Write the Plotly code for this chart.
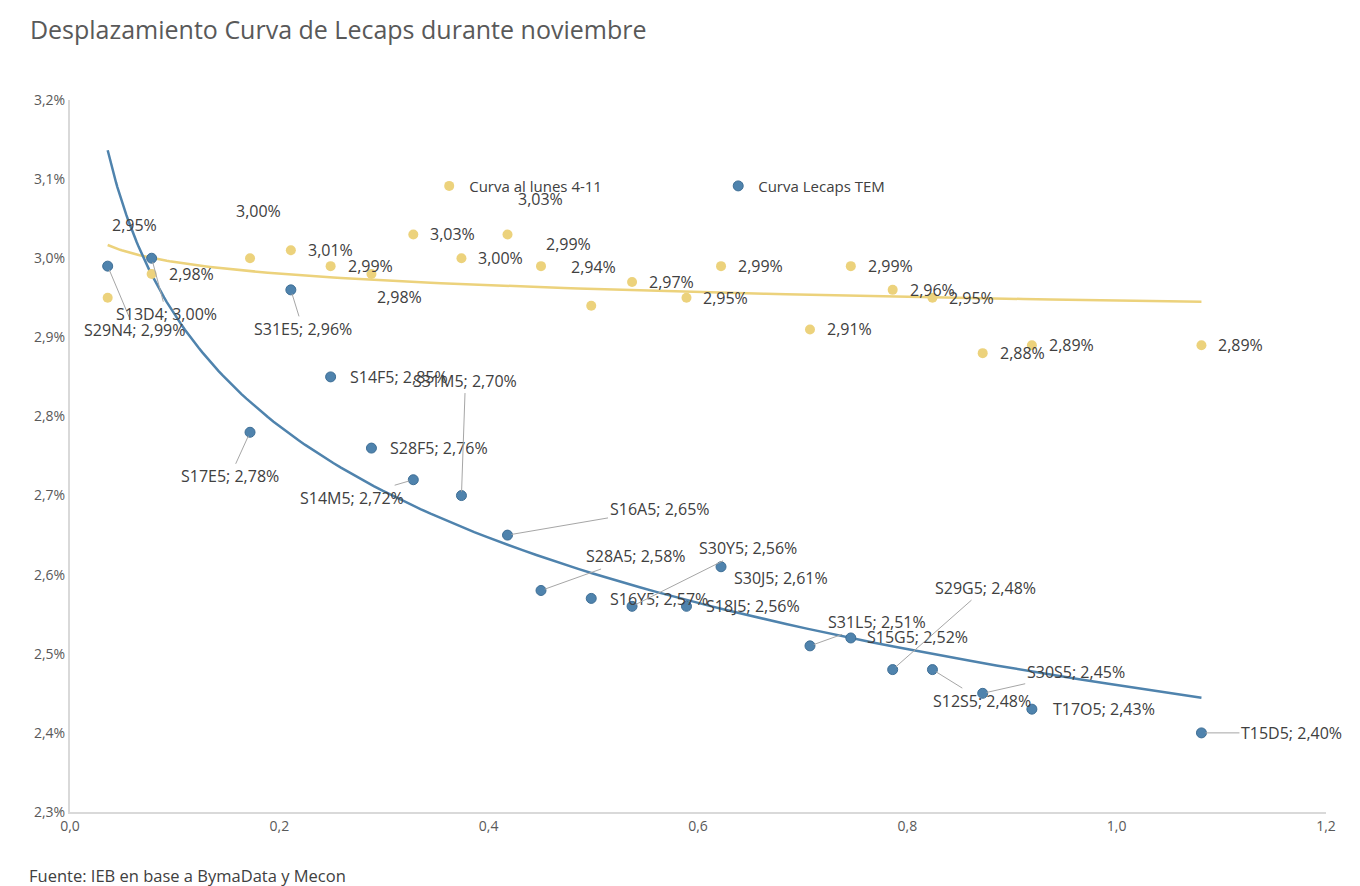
import numpy as np
import plotly.graph_objects as go

# Lecaps: duración (años) y TEM (%)
tickers = ["S29N4", "S13D4", "S17E5", "S31E5", "S14F5", "S28F5", "S14M5", "S31M5",
           "S16A5", "S28A5", "S16Y5", "S30Y5", "S18J5", "S30J5", "S31L5", "S15G5",
           "S29G5", "S12S5", "S30S5", "T17O5", "T15D5"]
duracion = [0.036, 0.078, 0.172, 0.211, 0.249, 0.288, 0.328, 0.374,
            0.418, 0.450, 0.498, 0.537, 0.589, 0.622, 0.707, 0.746,
            0.786, 0.824, 0.872, 0.919, 1.081]
tem_actual = [2.99, 3.00, 2.78, 2.96, 2.85, 2.76, 2.72, 2.70,
              2.65, 2.58, 2.57, 2.56, 2.56, 2.61, 2.51, 2.52,
              2.48, 2.48, 2.45, 2.43, 2.40]
tem_lunes = [2.95, 2.98, 3.00, 3.01, 2.99, 2.98, 3.03, 3.00,
             3.03, 2.99, 2.94, 2.97, 2.95, 2.99, 2.91, 2.99,
             2.96, 2.95, 2.88, 2.89, 2.89]

AZUL = "#4f83ad"
AMARILLO = "#ecd27c"
TEXTO = "#404040"
GRIS = "#a6a6a6"
FUENTE = "Open Sans"

# etiquetas con linea guia: (dx, dy) del centro del texto respecto al punto, en px
guia_azul = {
    "S29N4": (27, 64), "S13D4": (15, 56), "S31E5": (12, 39), "S17E5": (-20, 44),
    "S14M5": (-61, 18), "S31M5": (4, -115), "S16A5": (152, -26), "S28A5": (95, -34),
    "S30Y5": (116, -58), "S31L5": (67, -24), "S29G5": (93, -82), "S12S5": (50, 31),
    "S30S5": (93, -21), "T15D5": (90, 0),
}
# etiquetas a la derecha: (desplazamiento x al borde izq, dy)
derecha_azul = {
    "S14F5": (17, 0), "S28F5": (17, 0), "S16Y5": (17, 1), "S18J5": (18, 0),
    "S30J5": (11, 11), "S15G5": (14, -1), "T17O5": (19, 0),
}
# curva del lunes: etiquetas centradas con desplazamiento propio
centro_amarillo = {
    "S29N4": (27, -73), "S17E5": (8, -47), "S28F5": (28, 23),
    "S16A5": (33, -35), "S28A5": (27, -22), "S16Y5": (2, -39),
}


def pct(v):
    return f"{v:.2f}".replace(".", ",") + "%"


def curva_log(x, y):
    b, a = np.polyfit(np.log(x), y, 1)
    xs = np.geomspace(min(x), max(x), 120)
    return xs, a + b * np.log(xs)


fig = go.Figure()

xs, ys = curva_log(duracion, tem_lunes)
fig.add_trace(go.Scatter(x=xs, y=ys, mode="lines", line=dict(color=AMARILLO, width=2.5),
                         showlegend=False, hoverinfo="skip"))
xs, ys = curva_log(duracion, tem_actual)
fig.add_trace(go.Scatter(x=xs, y=ys, mode="lines", line=dict(color=AZUL, width=2.5),
                         showlegend=False, hoverinfo="skip"))

fig.add_trace(go.Scatter(x=duracion, y=tem_lunes, mode="markers", name="Curva al lunes 4-11",
                         marker=dict(color=AMARILLO, size=10)))
fig.add_trace(go.Scatter(x=duracion, y=tem_actual, mode="markers", name="Curva Lecaps TEM",
                         text=tickers,
                         marker=dict(color=AZUL, size=10, line=dict(color="#3f6f96", width=1))))

annotations = []
fuente_etq = dict(family=FUENTE, size=16, color=TEXTO)

for t, x, y in zip(tickers, duracion, tem_lunes):
    if t in centro_amarillo:
        dx, dy = centro_amarillo[t]
        annotations.append(dict(x=x, y=y, text=pct(y), showarrow=False, xanchor="center",
                                xshift=dx, yshift=-dy, font=fuente_etq))
    else:
        annotations.append(dict(x=x, y=y, text=pct(y), showarrow=False, xanchor="left",
                                xshift=15, font=fuente_etq))

for t, x, y in zip(tickers, duracion, tem_actual):
    texto = f"{t}; {pct(y)}"
    if t in guia_azul:
        dx, dy = guia_azul[t]
        annotations.append(dict(x=x, y=y, text=texto, showarrow=True, arrowhead=0,
                                arrowwidth=1, arrowcolor=GRIS, ax=dx, ay=dy,
                                standoff=4, font=fuente_etq))
    else:
        dx, dy = derecha_azul[t]
        annotations.append(dict(x=x, y=y, text=texto, showarrow=False, xanchor="left",
                                xshift=dx, yshift=-dy, font=fuente_etq))

annotations.append(dict(xref="paper", yref="paper", x=-0.034, y=-0.0885, xanchor="left",
                        yanchor="middle", showarrow=False,
                        text="Fuente: IEB en base a BymaData y Mecon",
                        font=dict(family=FUENTE, size=16.5, color=TEXTO)))

fig.update_layout(
    width=1360,
    height=886,
    title=dict(text="Desplazamiento Curva de Lecaps durante noviembre", x=0.022, xanchor="left",
               y=0.966, yanchor="middle", font=dict(family=FUENTE, size=25, color="#595959")),
    separators=",.",
    paper_bgcolor="white",
    plot_bgcolor="white",
    font=dict(family=FUENTE, color="#595959"),
    margin=dict(t=100, l=70, r=34, b=74),
    xaxis=dict(range=[0, 1.2], dtick=0.2, tickformat=".1f", showgrid=False, zeroline=False,
               showline=True, linecolor="#d9d9d9", linewidth=2, ticks="",
               tickfont=dict(size=14, color="#595959")),
    yaxis=dict(range=[2.3, 3.2], dtick=0.1, tickformat=".1f", ticksuffix="%", showgrid=False,
               zeroline=False, showline=True, linecolor="#d9d9d9", linewidth=2, ticks="",
               tickfont=dict(size=14, color="#595959")),
    legend=dict(orientation="h", x=0.286, y=0.879, xanchor="left", yanchor="middle",
                entrywidth=244, font=dict(family=FUENTE, size=15, color=TEXTO),
                itemwidth=30, bgcolor="rgba(0,0,0,0)"),
    annotations=annotations,
)

fig.write_html("out.html", config={"displayModeBar": False},
               post_script="document.body.style.margin='0';")
